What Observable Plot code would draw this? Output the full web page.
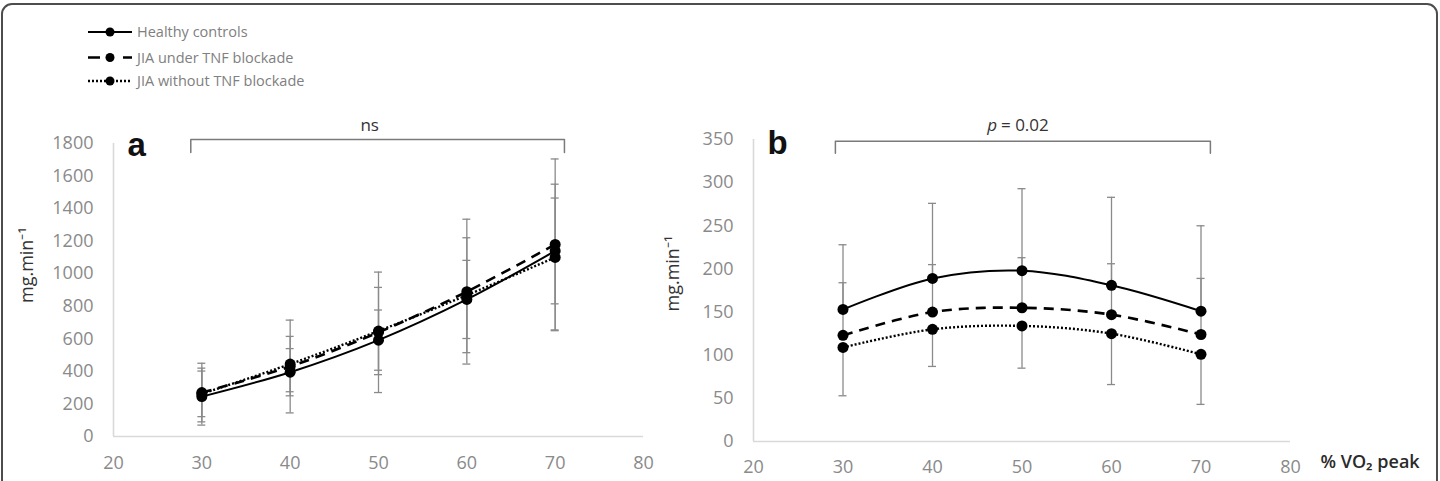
<!DOCTYPE html>
<html>
<head>
<meta charset="utf-8">
<script src="https://cdn.jsdelivr.net/npm/d3@7"></script>
<script src="https://cdn.jsdelivr.net/npm/@observablehq/plot@0.6"></script>
<style>
  body { margin: 0; background: #fff; }
  #page { position: relative; width: 1440px; height: 481px; overflow: hidden; background: #fff; font-family: "Open Sans", sans-serif; }
  #frame { position: absolute; left: 1px; top: 3px; width: 1433px; height: 540px; border: 2px solid #4d4d4d; border-radius: 11px; }
  .panel { position: absolute; top: 0; }
  #legend { position: absolute; left: 0; top: 0; }
</style>
</head>
<body>
<div id="page"><div id="frame"></div></div>
<script>
// Exercise intensity (% of peak VO2)
const intensity = [30, 40, 50, 60, 70];
const groups = ["Healthy controls", "JIA under TNF blockade", "JIA without TNF blockade"];

// Panel a: means and SDs (mg.min-1)
const healthyA = [245, 395, 592, 842, 1140];
const healthyASd = [175, 145, 185, 240, 325];
const tnfA = [270, 430, 640, 890, 1180];
const tnfASd = [180, 285, 370, 445, 525];
const noTnfA = [262, 445, 648, 868, 1100];
const noTnfASd = [140, 170, 268, 353, 450];

// Panel b: means and SDs (mg.min-1)
const healthyB = [153, 189, 198, 181, 151];
const healthyBSd = [75, 87, 95, 102, 99];
const tnfB = [123, 150, 155, 147, 124];
const tnfBSd = [61, 55, 58, 59, 65];
const noTnfB = [109, 130, 134, 125, 101];
const noTnfBSd = [56, 43, 49, 59, 58];

// Axis ticks
const xTicks = [20, 30, 40, 50, 60, 70, 80];
const yTicksA = [0, 200, 400, 600, 800, 1000, 1200, 1400, 1600, 1800];
const yTicksB = [0, 50, 100, 150, 200, 250, 300, 350];

// Significance annotations
const noteA = "ns";
const noteB = "= 0.02";
const yLabel = "mg.min⁻¹";
const xLabel = "% VO₂ peak";

// Line styles per group
const lineStyle = [
  {dash: null, width: 2, cap: "round"},
  {dash: "10,7", width: 2.6, cap: "butt"},
  {dash: "2,2", width: 2.4, cap: "butt"}
];

function rowsFor(means, sds, sides) {
  return groups.flatMap((g, i) => intensity.map((x, j) => {
    const m = means[i][j], s = sds[i][j];
    const side = sides[i];
    return {
      group: g, gi: i, x, mean: m,
      lo: side === "up" ? m : m - s,
      hi: side === "down" ? m : m + s,
      capLo: side !== "up", capHi: side !== "down"
    };
  }));
}

function panel(opts) {
  const rows = rowsFor(opts.means, opts.sds, opts.sides);
  const caps = rows.flatMap(d => [
    ...(d.capLo ? [{x: d.x, y: d.lo}] : []),
    ...(d.capHi ? [{x: d.x, y: d.hi}] : [])
  ]);
  const [bx0, bx1] = opts.bracketX;
  const [byTop, byEnd] = opts.bracketY;
  const bracket = [{x: bx0, y: byEnd}, {x: bx0, y: byTop}, {x: bx1, y: byTop}, {x: bx1, y: byEnd}];
  const marks = [
    Plot.ruleY([0], {stroke: "#d9d9d9", strokeWidth: 1.6}),
    Plot.ruleX([20], {y1: 0, y2: opts.yDomain[1], stroke: "#d9d9d9", strokeWidth: 1.6}),
    // error bars
    Plot.ruleX(rows, {x: "x", y1: "lo", y2: "hi", stroke: "#8a8a8a", strokeWidth: 1.3}),
    Plot.ruleY(caps, {y: "y", x1: d => d.x - 0.45, x2: d => d.x + 0.45, stroke: "#8a8a8a", strokeWidth: 1.3}),
    // group lines
    ...groups.map((g, i) => Plot.line(rows.filter(d => d.gi === i), {
      x: "x", y: "mean", curve: "catmull-rom", stroke: "#000",
      strokeWidth: lineStyle[i].width, strokeDasharray: lineStyle[i].dash,
      strokeLinecap: lineStyle[i].cap
    })),
    Plot.dot(rows, {x: "x", y: "mean", r: 5.5, fill: "#000"}),
    // significance bracket
    Plot.line(bracket, {x: "x", y: "y", stroke: "#7a7a7a", strokeWidth: 1.5}),
    // panel letter
    Plot.text([opts.letter], {frameAnchor: "top-left", textAnchor: "start", dx: 14, dy: opts.letterDy,
      fontSize: 33, fontWeight: "bold", fontFamily: "Liberation Sans, Arial, sans-serif", fill: "#111"}),
    // y label
    Plot.text([yLabel], {frameAnchor: "left", rotate: -90, dx: opts.yLabelDx, dy: opts.yLabelDy,
      fontSize: 18, fill: "#333"}),
    ...opts.extra
  ];
  return Plot.plot({
    width: opts.width, height: 481,
    marginLeft: opts.marginLeft, marginRight: opts.marginRight,
    marginTop: opts.marginTop, marginBottom: opts.marginBottom,
    style: {background: "transparent", overflow: "visible", fontSize: "18px",
      fontFamily: "Open Sans, sans-serif", color: "#8a8a8a"},
    x: {domain: [20, 80], ticks: xTicks, tickSize: 0, tickPadding: opts.xPad, tickFormat: "d", label: null},
    y: {domain: opts.yDomain, ticks: opts.yTicks, tickSize: 0, tickPadding: 20, tickFormat: "d", label: null},
    marks
  });
}

const page = document.getElementById("page");

const plotA = panel({
  means: [healthyA, tnfA, noTnfA], sds: [healthyASd, tnfASd, noTnfASd],
  sides: ["both", "both", "both"],
  yDomain: [0, 1800], yTicks: yTicksA,
  width: 700, marginLeft: 113, marginRight: 57, marginTop: 143, marginBottom: 45, xPad: 20,
  bracketX: [28.75, 71.05], bracketY: [1824, 1745],
  letter: "a", letterDy: -11, yLabelDx: -86, yLabelDy: 13,
  extra: [
    Plot.text([noteA], {x: 49, y: 1910, fontSize: 17, fill: "#333"})
  ]
});
plotA.classList.add("panel");
plotA.style.left = "0px";
page.appendChild(plotA);

const plotB = panel({
  means: [healthyB, tnfB, noTnfB], sds: [healthyBSd, tnfBSd, noTnfBSd],
  sides: ["up", "up", "down"],
  yDomain: [0, 350], yTicks: yTicksB,
  width: 740, marginLeft: 53, marginRight: 150, marginTop: 139, marginBottom: 40, xPad: 19,
  bracketX: [29.15, 71.05], bracketY: [348, 334],
  letter: "b", letterDy: -9, yLabelDx: -80, yLabelDy: 21,
  extra: [
    Plot.text(["p"], {x: 50, y: 366, textAnchor: "end", dx: -25, fontSize: 17, fontStyle: "italic", fill: "#333"}),
    Plot.text([noteB], {x: 50, y: 366, textAnchor: "start", dx: -21, fontSize: 17, fill: "#333"}),
    Plot.text([xLabel], {frameAnchor: "bottom-right", textAnchor: "start", dx: 30, dy: 26,
      fontSize: 18, fontWeight: 600, fill: "#2a2a2a"})
  ]
});
plotB.classList.add("panel");
plotB.style.left = "700px";
page.appendChild(plotB);

// Legend
const legend = d3.create("svg").attr("id", "legend").attr("width", 400).attr("height", 100);
const rowY = [32, 57.5, 81];
groups.forEach((g, i) => {
  const row = legend.append("g").attr("transform", `translate(0,${rowY[i]})`);
  const dash = i === 1 ? "12,23" : i === 2 ? "2,2" : null;
  row.append("line").attr("x1", 88).attr("x2", 132).attr("stroke", "#000")
    .attr("stroke-width", i === 0 ? 2 : 2.4).attr("stroke-dasharray", dash);
  row.append("circle").attr("cx", 110).attr("r", 4.5).attr("fill", "#000");
  row.append("text").attr("x", 137).attr("dy", "0.35em").attr("fill", "#808080")
    .attr("font-size", 14.5).attr("font-family", "Open Sans, sans-serif").text(g);
});
page.appendChild(legend.node());
</script>
</body>
</html>
